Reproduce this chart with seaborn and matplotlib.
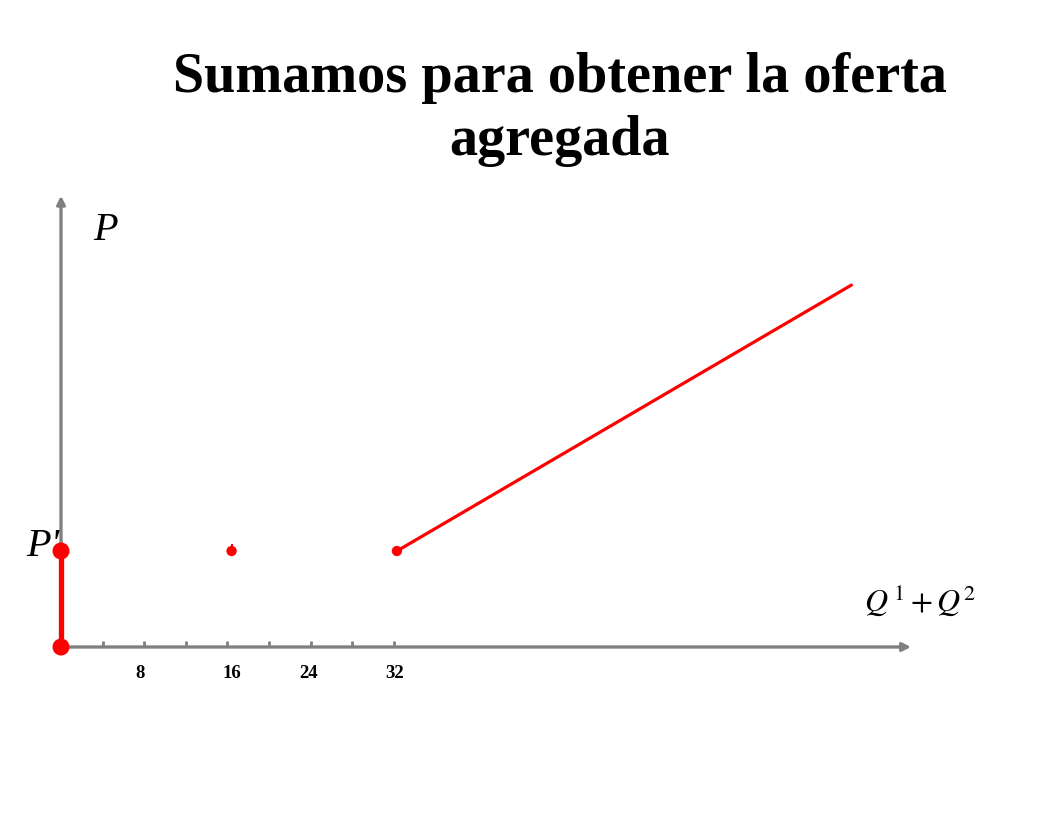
import matplotlib
matplotlib.use("Agg")
import matplotlib.pyplot as plt
import seaborn as sns
import pandas as pd

# Datos
p_prima = 10
q_puntos = [0, 16.4, 32.3]      # cantidades donde hay puntos a P'
oferta_q = [32.3, 76]           # tramo de la oferta agregada
oferta_p = [10, 37.7]
ticks_q = [4, 8, 12, 16, 20, 24, 28, 32]
etiquetas_q = [8, 16, 24, 32]
pos_etiquetas = [7.6, 16.4, 23.8, 32.1]
eje_q_max = 82
eje_p_max = 47.3

sns.set_style("white")
plt.rcParams["mathtext.fontset"] = "stix"
plt.rcParams["text.color"] = "black"

fig = plt.figure(figsize=(10.56, 8.16), dpi=100)
ax = fig.add_axes([0, 0, 1, 1])
ax.set_xlim(-61 / 10.4, (1056 - 61) / 10.4)
ax.set_ylim(-(816 - 647) / 9.6, 647 / 9.6)
ax.axis("off")

gris = "#808080"
rojo = "#ff0000"

# ejes con flecha
ax.annotate("", xy=(eje_q_max, 0), xytext=(0, 0),
            arrowprops=dict(arrowstyle="-|>", color=gris, lw=2.4, mutation_scale=12))
ax.annotate("", xy=(0, eje_p_max), xytext=(0, 0),
            arrowprops=dict(arrowstyle="-|>", color=gris, lw=2.4, mutation_scale=12))

# marcas del eje horizontal
ax.vlines(ticks_q, 0, 0.65, color=gris, lw=2)
for q, xq in zip(etiquetas_q, pos_etiquetas):
    ax.text(xq, -2.8, str(q), ha="center", va="center", fontsize=13.5,
            fontweight="bold", family="Liberation Serif")

# tramo vertical en Q = 0
df_vert = pd.DataFrame({"q": [0, 0], "p": [0, p_prima]})
sns.lineplot(data=df_vert, x="q", y="p", ax=ax, color=rojo, lw=3.8,
             estimator=None, sort=False, zorder=3)
sns.scatterplot(data=df_vert, x="q", y="p", ax=ax, color=rojo, s=150,
                edgecolor="none", zorder=4)

# puntos en 16 y 32
df_puntos = pd.DataFrame({"q": q_puntos[1:], "p": [p_prima] * 2})
sns.scatterplot(data=df_puntos, x="q", y="p", ax=ax, color=rojo, s=55, edgecolor="none")
ax.vlines(q_puntos[1], p_prima, p_prima + 0.7, color=rojo, lw=1.5)

# oferta agregada
df_oferta = pd.DataFrame({"q": oferta_q, "p": oferta_p})
sns.lineplot(data=df_oferta, x="q", y="p", ax=ax, color=rojo, lw=2.3)

# etiquetas
ax.text(4.3, 43.4, "P", fontsize=29, fontstyle="italic", family="Liberation Serif",
        ha="center", va="center")
ax.text(-0.1, 10.5, "P'", fontsize=29, fontstyle="italic", family="Liberation Serif",
        ha="right", va="center")
ax.text(82.6, 4.9, r"$Q^{\,1} + Q^2$", fontsize=23, ha="center", va="center")

fig.text(0.53, 0.866, "Sumamos para obtener la oferta\nagregada", ha="center", va="center",
         fontsize=40.5, fontweight="bold", family="Liberation Serif", linespacing=1.28)

fig.savefig("out.png", dpi=100)
